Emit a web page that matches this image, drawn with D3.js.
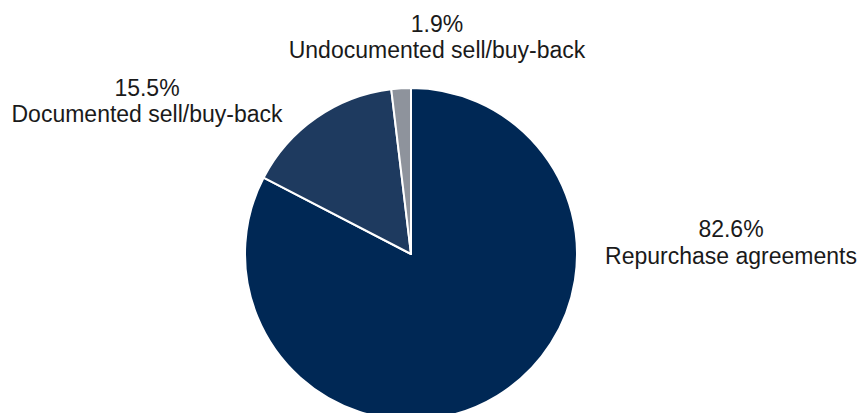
<!DOCTYPE html>
<html>
<head>
<meta charset="utf-8">
<script src="https://cdn.jsdelivr.net/npm/d3@7"></script>
<style>
  html, body { margin: 0; padding: 0; background: #fff; }
  svg { display: block; }
  text { font-family: "Liberation Sans", Arial, Helvetica, sans-serif; fill: #1a1a1a; }
</style>
</head>
<body>
<div id="chart"></div>
<script>
// data
const categories = ["Repurchase agreements", "Documented sell/buy-back", "Undocumented sell/buy-back"];
const shares = [82.6, 15.5, 1.9];
const colors = ["#002855", "#1e3a5f", "#8e939c"];
// label offsets from the pie centre (baseline of the first line)
const labelDx = [320, -264, 26];
const labelDy = [-17, -158.5, -222.5];

const width = 857, height = 413;
const cx = 411, cy = 254, radius = 166;
const lineGap = 26.5;

const data = categories.map((c, i) => ({ name: c, value: shares[i], color: colors[i], dx: labelDx[i], dy: labelDy[i] }));

const svg = d3.select("#chart")
  .append("svg")
  .attr("width", width)
  .attr("height", height);

const pie = d3.pie()
  .sort(null)
  .value(d => d.value);

const arc = d3.arc()
  .innerRadius(0)
  .outerRadius(radius);

const g = svg.append("g")
  .attr("transform", `translate(${cx},${cy})`);

g.selectAll(".slice")
  .data(pie(data))
  .join("path")
  .attr("class", "slice")
  .attr("d", arc)
  .attr("fill", d => d.data.color)
  .attr("stroke", "#fff")
  .attr("stroke-width", 2)
  .attr("stroke-linejoin", "round");

const labels = g.selectAll(".label")
  .data(data)
  .join("text")
  .attr("class", "label")
  .attr("text-anchor", "middle")
  .attr("font-size", 23)
  .attr("transform", d => `translate(${d.dx},${d.dy})`);

labels.append("tspan")
  .attr("x", 0)
  .attr("y", 0)
  .text(d => d.value.toFixed(1) + "%");

labels.append("tspan")
  .attr("x", 0)
  .attr("y", lineGap)
  .text(d => d.name);
</script>
</body>
</html>
